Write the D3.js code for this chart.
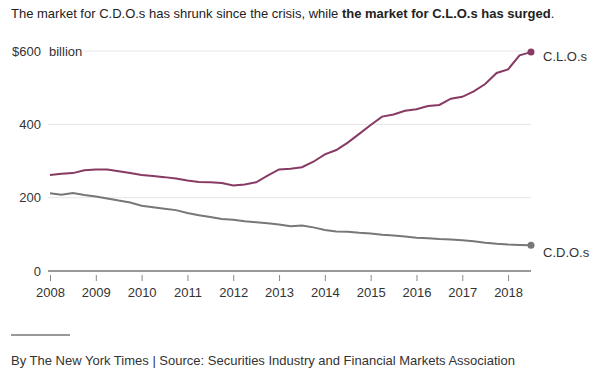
<!DOCTYPE html>
<html>
<head>
<meta charset="utf-8">
<script src="https://cdn.jsdelivr.net/npm/d3@7"></script>
<style>
  body { margin: 0; background: #fff; }
  svg text { font-family: "Liberation Sans", Arial, sans-serif; }
</style>
</head>
<body>
<div id="chart"></div>
<script>
// quarterly values, 2008 Q1 .. 2018 Q3, $ billion
var startYear = 2008;
var clo = [262, 265, 267, 275, 277, 277, 272, 267, 262, 259, 256, 252, 247, 243, 242, 240,
           233, 236, 242, 260, 277, 279, 283, 298, 318, 330, 350, 374, 398, 421, 427, 437,
           441, 450, 453, 470, 475, 490, 510, 540, 550, 588, 597];
var cdo = [212, 208, 213, 207, 203, 198, 192, 187, 178, 174, 170, 166, 158, 152, 147, 142,
           140, 136, 133, 130, 127, 122, 124, 119, 112, 108, 107, 104, 102, 99, 97, 94,
           91, 89, 87, 86, 84, 81, 77, 74, 72, 71, 70];
var yearTicks = [2008, 2009, 2010, 2011, 2012, 2013, 2014, 2015, 2016, 2017, 2018];
var valueTicks = [0, 200, 400, 600];

var width = 592, height = 380;
var margin = { top: 51, right: 61, bottom: 109, left: 50 };

var svg = d3.select("#chart").append("svg")
    .attr("width", width)
    .attr("height", height);

svg.append("text")
    .attr("x", 11)
    .attr("y", 18)
    .style("font-size", "13px")
    .attr("fill", "#222")
    .call(function (t) {
        t.append("tspan").text("The market for C.D.O.s has shrunk since the crisis, while ");
        t.append("tspan").attr("font-weight", "bold").text("the market for C.L.O.s has surged");
        t.append("tspan").text(".");
    });

var toDate = function (i) { return startYear + i / 4; };

var x = d3.scaleLinear()
    .domain([2008, toDate(clo.length - 1)])
    .range([margin.left, width - margin.right]);

var y = d3.scaleLinear()
    .domain([0, 600])
    .range([height - margin.bottom, margin.top]);

// grid lines
svg.append("g")
    .selectAll("line")
    .data(valueTicks.filter(function (d) { return d > 0; }))
    .join("line")
    .attr("x1", function (d) { return d === 600 ? 84 : x(2008) - 2; })
    .attr("x2", x.range()[1])
    .attr("y1", function (d) { return y(d); })
    .attr("y2", function (d) { return y(d); })
    .attr("stroke", "#e6e6e6")
    .attr("stroke-width", 1);

// y labels
svg.append("g")
    .selectAll("text")
    .data(valueTicks)
    .join("text")
    .attr("x", 41)
    .attr("y", function (d) { return y(d); })
    .attr("dy", "0.35em")
    .attr("text-anchor", "end")
    .style("font-size", "13px")
    .attr("fill", "#333")
    .text(function (d) { return d === 600 ? "$600" : d; });

svg.append("text")
    .attr("x", 49)
    .attr("y", y(600))
    .attr("dy", "0.35em")
    .style("font-size", "13px")
    .attr("fill", "#333")
    .text("billion");

// x axis
var xAxis = svg.append("g")
    .attr("transform", "translate(0," + (y(0) + 1) + ")")
    .call(d3.axisBottom(x).tickValues(yearTicks).tickFormat(d3.format("d")).tickSize(6).tickPadding(10).tickSizeOuter(0));
xAxis.select(".domain").remove();
xAxis.selectAll(".tick line").attr("stroke", "#888").attr("transform", "translate(0,3)");
xAxis.selectAll(".tick text").style("font-size", "13px").attr("fill", "#333");

svg.append("line")
    .attr("x1", x(2008) - 2)
    .attr("x2", x.range()[1])
    .attr("y1", y(0))
    .attr("y2", y(0))
    .attr("stroke", "#999")
    .attr("stroke-width", 2);

var line = d3.line()
    .x(function (d, i) { return x(toDate(i)); })
    .y(function (d) { return y(d); });

var series = [
    { name: "C.L.O.s", values: clo, color: "#873a62", dy: 4 },
    { name: "C.D.O.s", values: cdo, color: "#777", dy: 7 }
];

series.forEach(function (s) {
    var last = s.values.length - 1;
    svg.append("path")
        .attr("d", line(s.values))
        .attr("fill", "none")
        .attr("stroke", s.color)
        .attr("stroke-width", 2);
    svg.append("circle")
        .attr("cx", x(toDate(last)))
        .attr("cy", y(s.values[last]))
        .attr("r", 3.5)
        .attr("fill", s.color);
    svg.append("text")
        .attr("x", x(toDate(last)) + 12)
        .attr("y", y(s.values[last]) + s.dy)
        .attr("dy", "0.35em")
        .style("font-size", "13px")
        .attr("fill", "#333")
        .text(s.name);
});

// footer
svg.append("line")
    .attr("x1", 11).attr("x2", 70)
    .attr("y1", 335).attr("y2", 335)
    .attr("stroke", "#333").attr("stroke-width", 1);

svg.append("text")
    .attr("x", 11)
    .attr("y", 365)
    .style("font-size", "13px")
    .attr("fill", "#333")
    .text("By The New York Times | Source: Securities Industry and Financial Markets Association");
</script>
</body>
</html>
